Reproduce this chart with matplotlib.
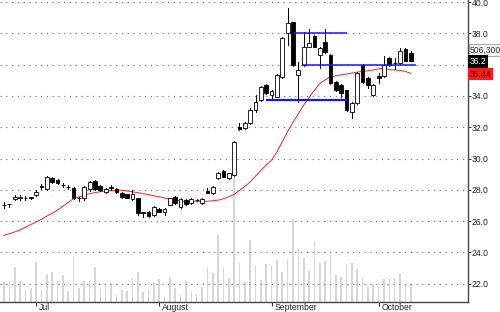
import numpy as np
import matplotlib
matplotlib.use('Agg')
import matplotlib.pyplot as plt
import matplotlib.transforms as mtransforms
from matplotlib.patches import Rectangle

# daily bars (price)
opens = [27.05, 27.08, 27.41, 27.50, 27.45, 27.52, 27.67, 28.22, 28.05, 28.76,
         28.63, 28.31, 28.20, 28.12, 27.50, 27.48, 28.05, 28.56, 28.25, 27.86,
         28.15, 28.05, 27.80, 27.73, 27.41, 27.48, 26.55, 26.58, 26.39, 26.78,
         26.60, 27.03, 27.54, 26.90, 27.35, 27.16, 27.33, 27.16, 27.93, 27.80,
         28.76, 29.20, 28.76, 28.95, 32.01, 31.95, 32.27, 33.10, 33.74, 34.70,
         34.06, 33.93, 35.21, 38.02, 38.72, 35.34, 35.98, 37.13, 37.83, 36.62,
         37.45, 36.62, 34.89, 34.70, 34.38, 32.97, 33.55, 35.98, 35.15, 34.06,
         35.27, 35.27, 36.42, 36.12, 36.10, 37.00, 36.74]
highs = [27.20, 27.10, 27.70, 27.65, 27.60, 27.55, 28.00, 28.35, 28.90, 28.85,
         28.70, 28.45, 28.30, 28.15, 27.55, 28.25, 28.55, 28.60, 28.30, 28.10,
         28.30, 28.10, 27.85, 27.75, 27.99, 27.50, 26.58, 26.62, 26.95, 26.85,
         26.82, 27.50, 27.60, 27.45, 27.40, 27.45, 27.40, 27.45, 28.12, 28.22,
         29.15, 29.25, 29.10, 31.10, 32.30, 32.35, 33.20, 34.06, 34.65, 34.75,
         34.40, 35.40, 37.75, 39.62, 38.75, 36.17, 38.10, 38.28, 37.90, 37.10,
         38.28, 36.65, 34.95, 34.75, 34.40, 33.60, 35.50, 36.05, 35.20, 34.75,
         35.47, 36.55, 36.50, 36.42, 37.06, 37.05, 36.90]
lows = [26.85, 26.90, 27.35, 27.35, 27.35, 27.42, 27.60, 28.05, 28.00, 28.45,
        28.40, 28.15, 28.05, 27.40, 27.30, 27.35, 27.95, 28.00, 27.95, 27.80,
        28.00, 27.80, 27.50, 27.45, 27.35, 26.40, 26.26, 26.26, 26.35, 26.55,
        26.40, 27.00, 27.10, 26.85, 27.05, 27.10, 27.30, 27.12, 27.78, 27.75,
        28.70, 28.80, 28.70, 28.90, 31.85, 31.90, 32.20, 33.00, 33.70, 34.10,
        33.74, 33.90, 35.15, 37.25, 35.90, 33.61, 35.90, 37.10, 37.10, 35.78,
        36.75, 34.75, 34.30, 33.90, 33.05, 32.59, 33.50, 34.85, 34.50, 34.00,
        34.83, 35.20, 35.90, 35.72, 36.05, 36.20, 36.20]
closes = [27.00, 27.08, 27.54, 27.50, 27.48, 27.45, 27.86, 28.15, 28.82, 28.50,
          28.44, 28.28, 28.15, 27.48, 27.45, 28.18, 28.50, 28.05, 27.99, 28.05,
          28.12, 27.86, 27.54, 27.48, 27.73, 26.52, 26.50, 26.30, 26.90, 26.60,
          26.78, 27.48, 27.16, 27.41, 27.10, 27.41, 27.36, 27.41, 27.80, 28.18,
          29.08, 28.82, 29.08, 31.06, 31.89, 32.27, 33.10, 33.61, 34.57, 34.19,
          34.32, 35.34, 37.70, 38.66, 35.98, 35.66, 37.13, 37.38, 37.13, 37.06,
          36.81, 34.83, 34.38, 34.19, 33.10, 33.55, 35.47, 34.89, 34.70, 34.70,
          35.15, 35.98, 35.98, 36.08, 36.87, 36.23, 36.20]

# volume in thousands of shares
volume = [563, 572, 1001, 601, 343, 400, 1144, 343, 801, 858,
          601, 772, 315, 1316, 400, 601, 601, 1001, 400, 543,
          543, 200, 343, 315, 686, 858, 286, 372, 543, 658,
          172, 715, 400, 200, 601, 286, 229, 429, 972, 829,
          1916, 972, 686, 3546, 1115, 572, 1773, 1030, 629, 1087,
          1058, 1201, 858, 1201, 2374, 1516, 1258, 887, 1716, 1115,
          1173, 1459, 772, 715, 1087, 1115, 944, 715, 429, 515,
          429, 658, 658, 686, 801, 515, 506.3]

# moving average (red line)
ma = [25.08, 25.20, 25.31, 25.43, 25.61, 25.78, 25.94, 26.12, 26.32, 26.50,
      26.71, 26.95, 27.20, 27.43, 27.54, 27.67, 27.76, 27.82, 27.88, 27.91,
      27.94, 27.97, 27.97, 27.93, 27.87, 27.82, 27.76, 27.69, 27.62, 27.55,
      27.48, 27.40, 27.33, 27.29, 27.25, 27.24, 27.24, 27.24, 27.27, 27.30,
      27.34, 27.43, 27.56, 27.71, 27.96, 28.21, 28.51, 28.87, 29.24, 29.59,
      29.89, 30.43, 31.07, 31.73, 32.31, 32.86, 33.42, 33.91, 34.36, 34.80,
      35.02, 35.22, 35.28, 35.35, 35.40, 35.46, 35.52, 35.57, 35.61, 35.66,
      35.73, 35.77, 35.67, 35.66, 35.63, 35.57, 35.44]

# horizontal support / resistance lines: level, start bar, end bar
line_levels = [38.0, 35.97, 33.72]
line_start = [54, 55.6, 49]
line_end = [64, 76.95, 64]
line_widths = [1.1, 1.1, 1.6]

month_pos = [6, 29, 50, 70]
month_names = ['Jul', 'August', 'September', 'October']
price_ticks = [22, 24, 26, 28, 30, 32, 34, 36, 38, 40]

plt.rcParams['font.family'] = ['Liberation Sans', 'DejaVu Sans']

fig = plt.figure(figsize=(5, 3.12), dpi=100)
rect = [0, 10 / 312, 468 / 500, 302 / 312]
vax = fig.add_axes(rect)
ax = fig.add_axes(rect)
ax.patch.set_visible(False)

n = len(closes)
x = np.arange(n)
xlim = (-0.75, 86.7)

# volume bars, behind everything
vax.bar(x, volume, width=0.3, color='#d6d6d6', linewidth=0)
vax.set_xlim(*xlim)
vax.set_ylim(0, 8640)
vax.axis('off')

# grid
for p in price_ticks:
    ax.axhline(p, color='#8a8a8a', lw=0.8, ls=(0, (1.2, 4.0)), zorder=0)

# MA line
ax.plot(x, ma, color='#ff2020', lw=0.7, zorder=2)

# candles
bw = 0.7
for i in range(n):
    o, h, l, c = opens[i], highs[i], lows[i], closes[i]
    ax.plot([i, i], [l, h], color='black', lw=0.7, zorder=3)
    lo, hi = min(o, c), max(o, c)
    if hi - lo < 0.04:
        hi = lo + 0.04
    fc = 'white' if c >= o else 'black'
    ax.add_patch(Rectangle((i - bw / 2, lo), bw, hi - lo, facecolor=fc,
                           edgecolor='black', lw=0.6, zorder=4))

# blue lines
for lev, s, e, w in zip(line_levels, line_start, line_end, line_widths):
    ax.plot([s, e], [lev, lev], color='#1414ff', lw=w, zorder=5,
            solid_capstyle='butt')

ax.set_xlim(*xlim)
ax.set_ylim(20.83, 40.13)

for s in ['top', 'left']:
    ax.spines[s].set_visible(False)
ax.spines['right'].set_color('#444444')
ax.spines['bottom'].set_color('#444444')
ax.spines['right'].set_linewidth(1.0)
ax.spines['bottom'].set_linewidth(1.0)

ax.yaxis.tick_right()
ax.set_yticks(price_ticks)
ax.set_yticklabels(['' if p == 36 else f'{p:.1f}' for p in price_ticks])
ax.tick_params(axis='y', length=2, width=0.6, pad=0.8, labelsize=6.2,
               colors='#222222')

ax.set_xticks(month_pos)
ax.set_xticklabels([])
ax.tick_params(axis='x', length=3, width=0.8, direction='out', colors='#333333')
xform = ax.get_xaxis_transform()
for p, name in zip(month_pos, month_names):
    ax.text(p + 0.55, -0.004, name, transform=xform, ha='left', va='top',
            fontsize=6.2, color='#222222', clip_on=False)

# value boxes on right axis
btrans = mtransforms.blended_transform_factory(ax.transAxes, ax.transData)
ax.text(1.004, 36.94, f'{volume[-1] * 1000:,.0f}', transform=btrans,
        ha='left', va='center', fontsize=6.2, color='#333333', clip_on=False,
        zorder=10, bbox=dict(boxstyle='square,pad=0.15', fc='#f4f4f4',
                             ec='#999999', lw=0.6))
ax.text(1.004, closes[-1], f'{closes[-1]:.1f}', transform=btrans,
        ha='left', va='center', fontsize=6.2, color='white', clip_on=False,
        zorder=10, bbox=dict(boxstyle='square,pad=0.2', fc='black', ec='none'))
ax.text(1.004, ma[-1] - 0.05, f'{ma[-1]:.2f}', transform=btrans,
        ha='left', va='center', fontsize=6.2, color='#3a0000', clip_on=False,
        zorder=10, bbox=dict(boxstyle='square,pad=0.2', fc='#ff1a1a', ec='none'))

fig.savefig('out.png', dpi=100)
